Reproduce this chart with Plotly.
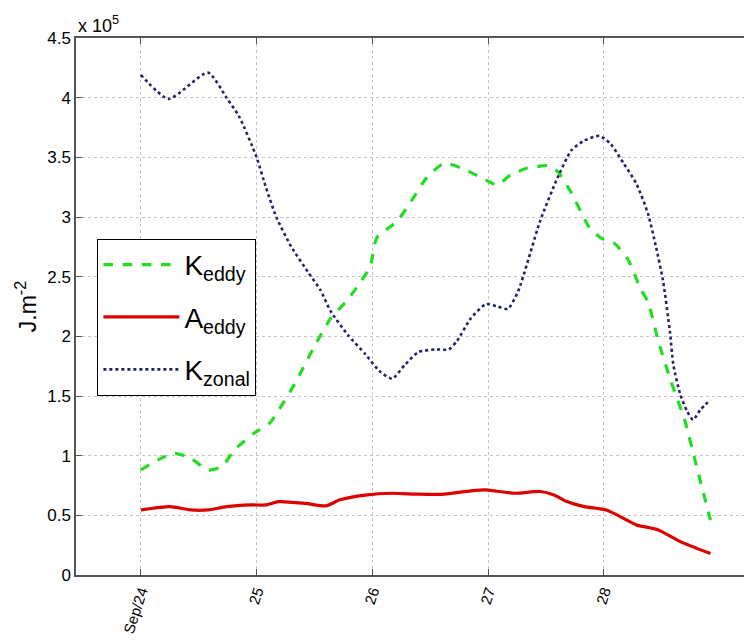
import plotly.graph_objects as go

# x values: day of September
k_eddy_x = [24.0, 24.15, 24.29, 24.43, 24.58, 24.7, 24.81, 24.98, 25.11, 25.19, 25.34, 25.49,
            25.64, 25.79, 25.9, 25.98, 26.04, 26.21, 26.32, 26.47, 26.62, 26.77, 26.92, 27.08,
            27.19, 27.34, 27.51, 27.6, 27.72, 27.87, 27.98, 28.09, 28.21, 28.32, 28.38, 28.47,
            28.58, 28.7, 28.79, 28.92]
k_eddy_y = [0.88, 0.965, 1.02, 0.98, 0.88, 0.91, 1.05, 1.19, 1.27, 1.38, 1.62, 1.90,
            2.15, 2.31, 2.46, 2.58, 2.83, 2.96, 3.11, 3.33, 3.45, 3.41, 3.34, 3.27,
            3.35, 3.41, 3.43, 3.38, 3.2, 2.92, 2.82, 2.78, 2.64, 2.39, 2.29, 1.96,
            1.62, 1.29, 0.95, 0.46]

a_eddy_x = [24.0, 24.25, 24.43, 24.58, 24.74, 24.96, 25.08, 25.19, 25.42, 25.6, 25.72, 25.94,
            26.17, 26.4, 26.62, 26.85, 26.98, 27.23, 27.45, 27.57, 27.68, 27.83, 28.02, 28.17,
            28.28, 28.47, 28.66, 28.92]
a_eddy_y = [0.545, 0.573, 0.545, 0.545, 0.573, 0.587, 0.587, 0.615, 0.60, 0.58, 0.63, 0.67,
            0.685, 0.677, 0.677, 0.705, 0.713, 0.685, 0.70, 0.67, 0.615, 0.573, 0.545, 0.475,
            0.42, 0.378, 0.28, 0.18]

k_zonal_x = [24.0, 24.24, 24.58, 24.74, 24.85, 25.0, 25.08, 25.17, 25.3, 25.45, 25.55, 25.64,
             25.79, 25.94, 26.06, 26.17, 26.28, 26.4, 26.55, 26.66, 26.73, 26.85, 26.98, 27.08,
             27.17, 27.26, 27.45, 27.6, 27.72, 27.83, 27.96, 28.06, 28.17, 28.28, 28.38, 28.45,
             28.51, 28.57, 28.6, 28.66, 28.72, 28.77, 28.83, 28.92]
k_zonal_y = [4.19, 3.99, 4.21, 4.0, 3.84, 3.5, 3.25, 3.0, 2.75, 2.53, 2.39, 2.21,
             2.01, 1.85, 1.71, 1.645, 1.76, 1.87, 1.89, 1.89, 1.96, 2.15, 2.27, 2.25,
             2.23, 2.38, 2.97, 3.33, 3.56, 3.64, 3.68, 3.61, 3.45, 3.28, 3.03, 2.75,
             2.47, 2.04, 1.76, 1.51, 1.37, 1.30, 1.38, 1.47]

tick_vals = [24, 25, 26, 27, 28]
tick_text = ["Sep/24", "25", "26", "27", "28"]
y_ticks = [0, 0.5, 1, 1.5, 2, 2.5, 3, 3.5, 4, 4.5]
y_ticktext = ["0", "0.5", "1", "1.5", "2", "2.5", "3", "3.5", "4", "4.5"]

FONT = "Liberation Sans, Arial, sans-serif"

fig = go.Figure()
fig.add_trace(go.Scatter(x=k_eddy_x, y=k_eddy_y, mode="lines", name="K<sub>eddy</sub>", legendgroup="a",
                         line=dict(color="#22dd22", width=3.2, dash="dash", shape="spline", smoothing=0.6)))
fig.add_trace(go.Scatter(x=a_eddy_x, y=a_eddy_y, mode="lines", name="A<sub>eddy</sub>", legendgroup="b",
                         line=dict(color="#dd0000", width=3.2, shape="spline", smoothing=0.6)))
fig.add_trace(go.Scatter(x=k_zonal_x, y=k_zonal_y, mode="lines", name="K<sub>zonal</sub>", legendgroup="c",
                         line=dict(color="#22226e", width=2.6, dash="dot", shape="spline", smoothing=0.6)))

fig.update_layout(
    width=744, height=640,
    margin=dict(l=76, r=0, t=38, b=65),
    paper_bgcolor="white", plot_bgcolor="white",
    font=dict(family=FONT, size=16, color="black"),
    showlegend=True,
    legend=dict(
        x=0.032, y=0.626, xanchor="left", yanchor="top",
        bordercolor="black", borderwidth=1, bgcolor="white",
        font=dict(family=FONT, size=28, color="black"),
        itemwidth=76, tracegroupgap=13, traceorder="grouped",
    ),
    xaxis=dict(
        range=[23.44, 29.21], tickvals=tick_vals, ticktext=tick_text, tickangle=-72,
        showgrid=True, gridcolor="#c4c4c4", griddash="dot", gridwidth=1,
        showline=True, linecolor="#555555", linewidth=1.5, mirror="ticks",
        ticks="inside", ticklen=6, tickcolor="#555555", zeroline=False,
        tickfont=dict(size=15), automargin=False,
    ),
    yaxis=dict(
        range=[0, 4.5], tickvals=y_ticks, ticktext=y_ticktext,
        showgrid=True, gridcolor="#c4c4c4", griddash="dot", gridwidth=1,
        showline=True, linecolor="#555555", linewidth=1.5, mirror=False,
        ticks="inside", ticklen=6, tickcolor="#555555", zeroline=False,
        tickfont=dict(size=17), automargin=False,
        title=dict(text="J.m<sup>-2</sup>", font=dict(size=23), standoff=4),
    ),
    annotations=[dict(text="x 10<sup>5</sup>", xref="paper", yref="paper", x=0.0, y=1.0,
                      xanchor="left", yanchor="bottom", showarrow=False,
                      font=dict(size=18, family=FONT), yshift=0)],
)

fig.write_html("out.html")
